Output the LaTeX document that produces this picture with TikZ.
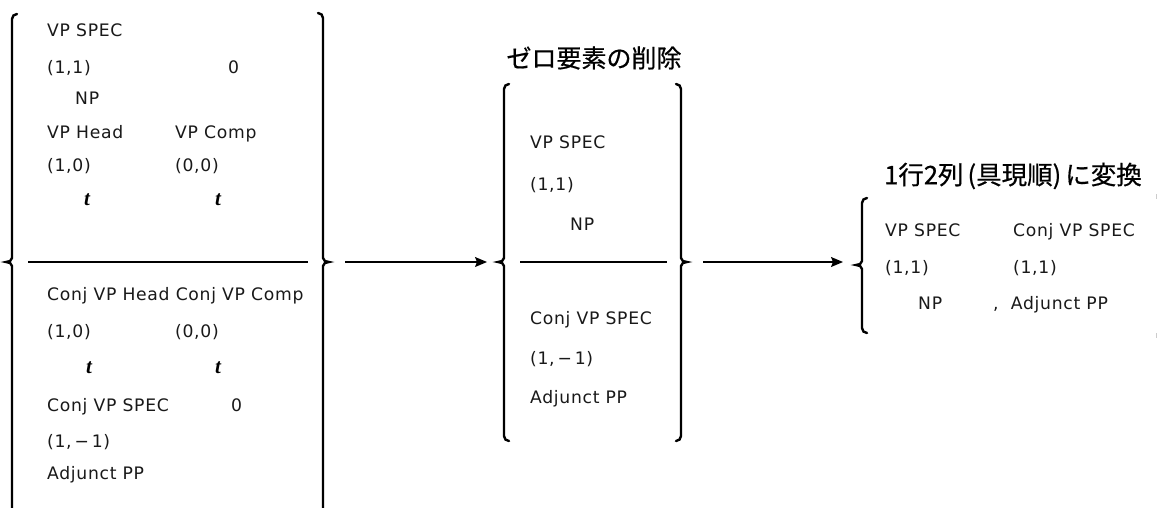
\documentclass[tikz,border=0pt]{standalone}
\usepackage{fontspec}
\setmainfont{DejaVu Sans}[LetterSpace=4]
\newfontfamily\jpfont{Noto Sans CJK JP}[FakeBold=0.6]
\newfontfamily\tfont{Liberation Serif}
\usetikzlibrary{arrows.meta}
\tikzset{
  brc/.style={line width=2.4pt, line cap=round},
  lbl/.style={anchor=base west, inner sep=0pt, font=\fontsize{17.2}{18}\selectfont, text=black!90},
  tt/.style={anchor=base west, inner sep=0pt, font=\fontsize{21}{22}\selectfont\tfont\bfseries\itshape},
  ttl/.style={anchor=center, inner sep=0pt, font=\fontsize{25}{26}\selectfont\jpfont},
  divider/.style={line width=1.1pt},
  conn/.style={line width=1.2pt, -{Stealth[length=12pt,width=10pt,inset=2pt]}}
}
\newcommand{\BraceLeft}[4]{%
  \draw[brc] (#1+5,#2) to[out=180,in=90] (#1,#2+5) -- (#1,#3-4) to[out=-90,in=0] (#1-6,#3)
    to[out=0,in=90] (#1,#3+4) -- (#1,#4-5) to[out=-90,in=180] (#1+5,#4);}
\newcommand{\BraceRight}[4]{%
  \draw[brc] (#1-5,#2) to[out=0,in=90] (#1,#2+5) -- (#1,#3-4) to[out=-90,in=180] (#1+6,#3)
    to[out=180,in=90] (#1,#3+4) -- (#1,#4-5) to[out=-90,in=0] (#1-5,#4);}
\begin{document}
\begin{tikzpicture}[x=1pt,y=-1pt]
\useasboundingbox (0,0) rectangle (1157,507);
\fill[white] (0,0) rectangle (1157,507);

% ---------- left block ----------
\BraceLeft{12}{14}{262}{520}
\BraceRight{323}{13}{262}{520}
\node[lbl] (a1) at (47,36) {VP SPEC};
\node[lbl] (a2) at (47,73) {(1,1)};
\node[lbl] (a3) at (228,73) {0};
\node[lbl] (a4) at (75,104) {NP};
\node[lbl] (a5) at (47,138) {VP Head};
\node[lbl] (a6) at (175,138) {VP Comp};
\node[lbl] (a7) at (47,171) {(1,0)};
\node[lbl] (a8) at (175,171) {(0,0)};
\node[tt] (a9) at (84,205) {t};
\node[tt] (a10) at (215,205) {t};
\coordinate (da) at (28,262);
\coordinate (db) at (308,262);
\draw[divider] (da) -- (db);
\node[lbl] (b1) at (47,300) {Conj VP Head Conj VP Comp};
\node[lbl] (b2) at (47,337) {(1,0)};
\node[lbl] (b3) at (175,337) {(0,0)};
\node[tt] (b4) at (86,373) {t};
\node[tt] (b5) at (215,373) {t};
\node[lbl] (b6) at (47,411) {Conj VP SPEC};
\node[lbl] (b7) at (231,411) {0};
\node[lbl] (b8) at (47,447) {(1,\,−\,1)};
\node[lbl] (b9) at (47,479) {Adjunct PP};

% ---------- middle block ----------
\node[ttl] (t1) at (594,58) {ゼロ要素の削除};
\BraceLeft{504}{84}{262}{441}
\BraceRight{681}{84}{262}{441}
\node[lbl] (m1) at (530,148) {VP SPEC};
\node[lbl] (m2) at (530,190) {(1,1)};
\node[lbl] (m3) at (570,230) {NP};
\coordinate (dc) at (520,262);
\coordinate (dd) at (667,262);
\draw[divider] (dc) -- (dd);
\node[lbl] (m4) at (530,324) {Conj VP SPEC};
\node[lbl] (m5) at (530,364) {(1,\,−\,1)};
\node[lbl] (m6) at (530,403) {Adjunct PP};

% ---------- right block ----------
\node[ttl, font=\fontsize{25.5}{26}\selectfont\jpfont] (t2) at (1013,176) {1行2列\hspace{4pt}(具現順)\hspace{4pt}に変換};
\BraceLeft{862}{198}{265}{333}
\draw[gray!40, line width=1pt] (1156,194) -- (1156,199);
\draw[gray!40, line width=1pt] (1156,333) -- (1156,338);
\node[lbl] (r1) at (885,236) {VP SPEC};
\node[lbl] (r2) at (1013,236) {Conj VP SPEC};
\node[lbl] (r3) at (885,273) {(1,1)};
\node[lbl] (r4) at (1013,273) {(1,1)};
\node[lbl] (r5) at (918,309) {NP};
\node[lbl] (r6) at (993,309) {,\ \ Adjunct PP};

% ---------- connectors ----------
\coordinate (A1) at (345,262);
\coordinate (A2) at (487,262);
\coordinate (B1) at (703,262);
\coordinate (B2) at (843,262);
\draw[conn] (A1) -- (A2);
\draw[conn] (B1) -- (B2);
\end{tikzpicture}
\end{document}
